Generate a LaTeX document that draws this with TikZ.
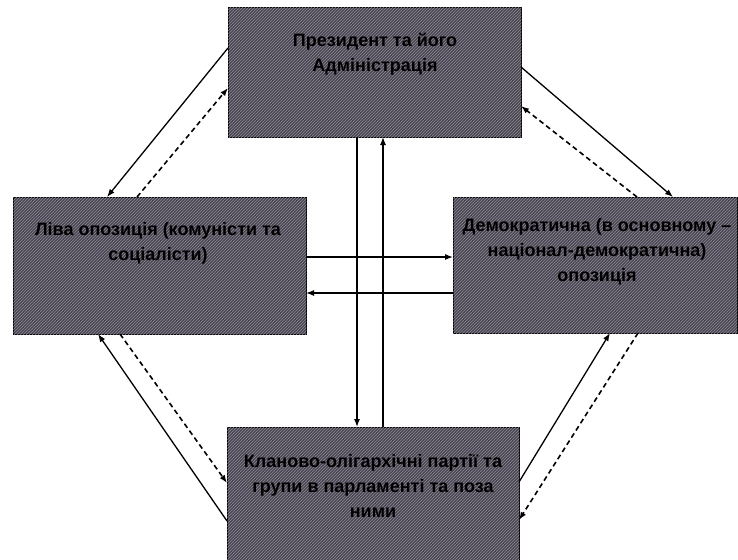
\documentclass[tikz,border=0pt]{standalone}
\usepackage{fontspec}
\setmainfont{Liberation Sans}
\usetikzlibrary{arrows.meta,patterns}
\definecolor{boxfill}{HTML}{4A4652}
\definecolor{hatch}{HTML}{8C8896}
\begin{document}
\begin{tikzpicture}[x=1pt,y=-1pt,
  box/.style={draw=black, line width=0.8pt, fill=boxfill,
    postaction={pattern=north east lines, pattern color=hatch},
    anchor=north west, inner sep=0pt},
  txt/.style={align=center, font=\bfseries\fontsize{18}{25}\selectfont, text=black},
  solidarr/.style={line width=1.3pt, -{Latex[length=8pt,width=6pt]}},
  dasharr/.style={line width=1.6pt, dash pattern=on 5pt off 3.5pt, -{Latex[length=8pt,width=6pt]}}
]
\useasboundingbox (0,0) rectangle (738,559);
% boxes
\node[box, minimum width=293pt, minimum height=130pt] (top) at (228,7) {};
\node[box, minimum width=293pt, minimum height=137pt] (left) at (13,197) {};
\node[box, minimum width=284pt, minimum height=136pt] (right) at (453,197) {};
\node[box, minimum width=292pt, minimum height=135pt] (bottom) at (227,427) {};
% texts
\node[txt] (ttop) at (375,54) {Президент та його\\Адміністрація};
\node[txt] (tleft) at (158,243) {Ліва опозиція (комуністи та\\соціалісти)};
\node[txt] (tright) at (597,252) {Демократична (в основному –\\націонал-демократична)\\опозиція};
\node[txt] (tbottom) at (373,486) {Кланово-олігархічні партії та\\групи в парламенті та поза\\ними};
% connector end points
\coordinate (a1s) at (228,48);  \coordinate (a1e) at (107,197);
\coordinate (a2s) at (137,197); \coordinate (a2e) at (228,88);
\coordinate (a3s) at (521,67);  \coordinate (a3e) at (673,197);
\coordinate (a4s) at (637,197); \coordinate (a4e) at (521,106);
\coordinate (a5s) at (227,521); \coordinate (a5e) at (98,334);
\coordinate (a6s) at (120,334); \coordinate (a6e) at (227,483);
\coordinate (a7s) at (519,482); \coordinate (a7e) at (610,333);
\coordinate (a8s) at (638,333); \coordinate (a8e) at (519,520);
\coordinate (v1s) at (357,137); \coordinate (v1e) at (357,427);
\coordinate (v2s) at (383,427); \coordinate (v2e) at (383,137);
\coordinate (h1s) at (306,257); \coordinate (h1e) at (453,257);
\coordinate (h2s) at (453,293); \coordinate (h2e) at (306,293);
% connectors
\draw[solidarr] (a1s) -- (a1e);
\draw[dasharr] (a2s) -- (a2e);
\draw[solidarr] (a3s) -- (a3e);
\draw[dasharr] (a4s) -- (a4e);
\draw[solidarr] (a5s) -- (a5e);
\draw[dasharr] (a6s) -- (a6e);
\draw[solidarr] (a7s) -- (a7e);
\draw[dasharr] (a8s) -- (a8e);
\draw[solidarr] (v1s) -- (v1e);
\draw[solidarr] (v2s) -- (v2e);
\draw[solidarr] (h1s) -- (h1e);
\draw[solidarr] (h2s) -- (h2e);
\end{tikzpicture}
\end{document}
